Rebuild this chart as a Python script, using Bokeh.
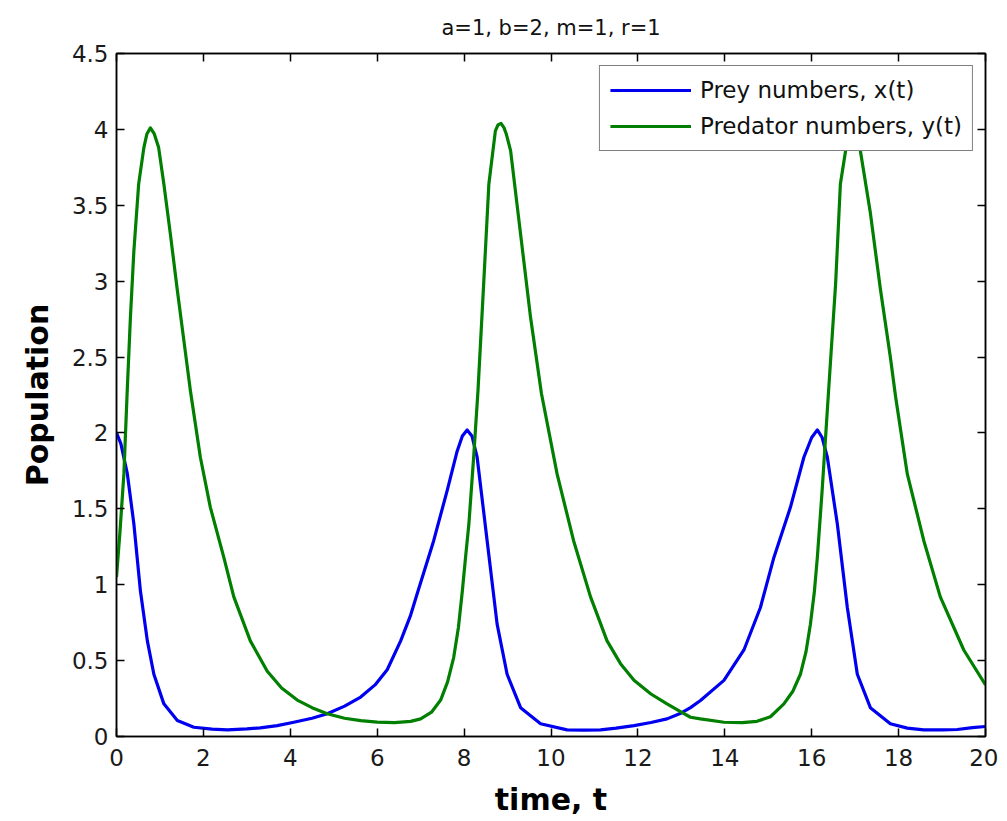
from bokeh.plotting import figure
from bokeh.models import Range1d, LinearAxis, FixedTicker, CustomJSTickFormatter
from bokeh.embed import file_html
from bokeh.resources import INLINE

# ---- data ----
prey_t = [0.0, 0.1, 0.25, 0.4, 0.55, 0.71, 0.86, 1.09, 1.4, 1.78, 2.2, 2.55, 3.0, 3.31,
          3.7, 4.08, 4.5, 4.85, 5.25, 5.62, 5.95, 6.23, 6.54, 6.77, 6.92, 7.30, 7.61,
          7.84, 7.96, 8.07, 8.18, 8.30, 8.53, 8.76, 8.99, 9.30, 9.76, 10.37, 10.75,
          11.14, 11.5, 11.91, 12.3, 12.67, 13.0, 13.21, 13.44, 13.98, 14.44, 14.82,
          15.13, 15.51, 15.82, 16.0, 16.13, 16.24, 16.36, 16.59, 16.82, 17.05, 17.35,
          17.81, 18.2, 18.58, 19.0, 19.35, 19.7, 20.0]
prey_x = [2.0, 1.93, 1.73, 1.40, 0.96, 0.63, 0.41, 0.215, 0.105, 0.061, 0.048, 0.044,
          0.050, 0.057, 0.072, 0.094, 0.12, 0.15, 0.20, 0.26, 0.34, 0.44, 0.63, 0.80,
          0.94, 1.29, 1.62, 1.88, 1.98, 2.02, 1.98, 1.84, 1.29, 0.74, 0.41, 0.19, 0.084,
          0.044, 0.042, 0.044, 0.055, 0.072, 0.092, 0.116, 0.155, 0.19, 0.237, 0.37,
          0.57, 0.85, 1.18, 1.51, 1.84, 1.97, 2.02, 1.97, 1.84, 1.40, 0.85, 0.41, 0.19,
          0.084, 0.055, 0.044, 0.043, 0.046, 0.058, 0.066]

pred_t = [0.0, 0.08, 0.17, 0.25, 0.32, 0.40, 0.51, 0.63, 0.70, 0.78, 0.87, 0.97, 1.09,
          1.24, 1.40, 1.55, 1.70, 1.93, 2.16, 2.47, 2.70, 3.08, 3.47, 3.8, 4.16, 4.5,
          4.85, 5.25, 5.62, 6.0, 6.4, 6.77, 7.0, 7.25, 7.46, 7.62, 7.76, 7.87, 7.96,
          8.04, 8.11, 8.22, 8.32, 8.45, 8.57, 8.72, 8.78, 8.85, 8.92, 8.97, 9.07, 9.30,
          9.53, 9.78, 10.14, 10.52, 10.91, 11.29, 11.6, 11.91, 12.3, 12.67, 13.0,
          13.21, 13.44, 13.98, 14.4, 14.74, 15.05, 15.36, 15.57, 15.74, 15.87, 15.97,
          16.06, 16.13, 16.24, 16.38, 16.55, 16.66, 16.78, 16.86, 16.95, 17.03, 17.12,
          17.35, 17.58, 17.81, 17.93, 18.20, 18.58, 18.96, 19.50, 20.0]
pred_y = [1.05, 1.35, 1.73, 2.30, 2.76, 3.20, 3.64, 3.88, 3.97, 4.01, 3.97, 3.88, 3.64,
          3.31, 2.94, 2.61, 2.28, 1.84, 1.51, 1.18, 0.92, 0.63, 0.43, 0.32, 0.24, 0.19,
          0.15, 0.12, 0.105, 0.095, 0.092, 0.10, 0.116, 0.16, 0.24, 0.36, 0.52, 0.72,
          0.96, 1.2, 1.40, 1.84, 2.28, 2.98, 3.64, 3.99, 4.03, 4.04, 4.01, 3.97, 3.86,
          3.31, 2.76, 2.26, 1.73, 1.29, 0.92, 0.63, 0.48, 0.37, 0.28, 0.215, 0.16,
          0.127, 0.116, 0.094, 0.092, 0.10, 0.13, 0.215, 0.30, 0.41, 0.56, 0.74, 0.95,
          1.18, 1.62, 2.24, 2.98, 3.64, 3.86, 3.96, 4.0, 3.96, 3.86, 3.45, 2.95, 2.50,
          2.24, 1.73, 1.29, 0.92, 0.57, 0.34]

x_ticks = [0, 2, 4, 6, 8, 10, 12, 14, 16, 18, 20]
y_ticks = [0, 0.5, 1, 1.5, 2, 2.5, 3, 3.5, 4, 4.5]

title_text = "a=1, b=2, m=1, r=1"
x_label = "time, t"
y_label = "Population"
prey_label = "Prey numbers, x(t)"
pred_label = "Predator numbers, y(t)"

FONT = "DejaVu Sans"

p = figure(frame_width=869, frame_height=683,
           x_range=Range1d(0, 20), y_range=Range1d(0, 4.5),
           output_backend="svg", toolbar_location=None,
           min_border_left=116, min_border_right=13, min_border_top=53,
           min_border_bottom=70, title=title_text)

p.background_fill_color = "white"
p.border_fill_color = "white"
p.outline_line_color = "black"
p.outline_line_width = 1.5
p.xgrid.visible = False
p.ygrid.visible = False

p.title.align = "center"
p.title.text_font = FONT
p.title.text_font_size = "21px"
p.title.text_font_style = "normal"
p.title.text_color = "#111111"
p.title.standoff = 27

fmt = CustomJSTickFormatter(code="return tick.toString();")
blank_fmt = CustomJSTickFormatter(code="return '';")

def style_axis(ax, ticks, labels=True):
    ax.ticker = FixedTicker(ticks=ticks)
    ax.axis_line_color = "black"
    ax.axis_line_width = 1.5
    ax.major_tick_in = 8
    ax.major_tick_out = 0
    ax.major_tick_line_color = "black"
    ax.major_tick_line_width = 1.5
    ax.minor_tick_line_color = None
    ax.major_label_text_font = FONT
    if labels:
        ax.formatter = fmt
        ax.major_label_text_font_size = "23px"
        ax.major_label_text_color = "#1a1a1a"
    else:
        ax.formatter = blank_fmt
        ax.major_label_text_font_size = "1px"
        ax.major_label_text_color = None
        ax.major_label_standoff = 0

style_axis(p.xaxis[0], x_ticks)
style_axis(p.yaxis[0], y_ticks)
p.xaxis[0].major_label_standoff = 12
p.yaxis[0].major_label_standoff = 8

p.xaxis.axis_label = x_label
p.yaxis.axis_label = y_label
for ax in (p.xaxis[0], p.yaxis[0]):
    ax.axis_label_text_font = FONT
    ax.axis_label_text_font_size = "30px"
    ax.axis_label_text_font_style = "bold"
    ax.axis_label_text_color = "black"
p.xaxis[0].axis_label_standoff = 13
p.yaxis[0].axis_label_standoff = 14

top_ax = LinearAxis()
right_ax = LinearAxis()
style_axis(top_ax, x_ticks, labels=False)
style_axis(right_ax, y_ticks, labels=False)
p.add_layout(top_ax, "above")
p.add_layout(right_ax, "right")

p.line(prey_t, prey_x, line_color="#0000f0", line_width=3.2, line_join="round",
       legend_label=prey_label)
p.line(pred_t, pred_y, line_color="#007f00", line_width=3.2, line_join="round",
       legend_label=pred_label)

lg = p.legend[0]
lg.location = "top_right"
lg.margin = 12
lg.padding = 10
lg.spacing = 8
lg.border_line_color = "black"
lg.border_line_width = 1.5
lg.background_fill_color = "white"
lg.background_fill_alpha = 1.0
lg.label_text_font = FONT
lg.label_text_font_size = "23px"
lg.label_text_color = "#111111"
lg.glyph_width = 81
lg.glyph_height = 28
lg.label_standoff = 9

open("out.html", "w").write(file_html(p, INLINE))
